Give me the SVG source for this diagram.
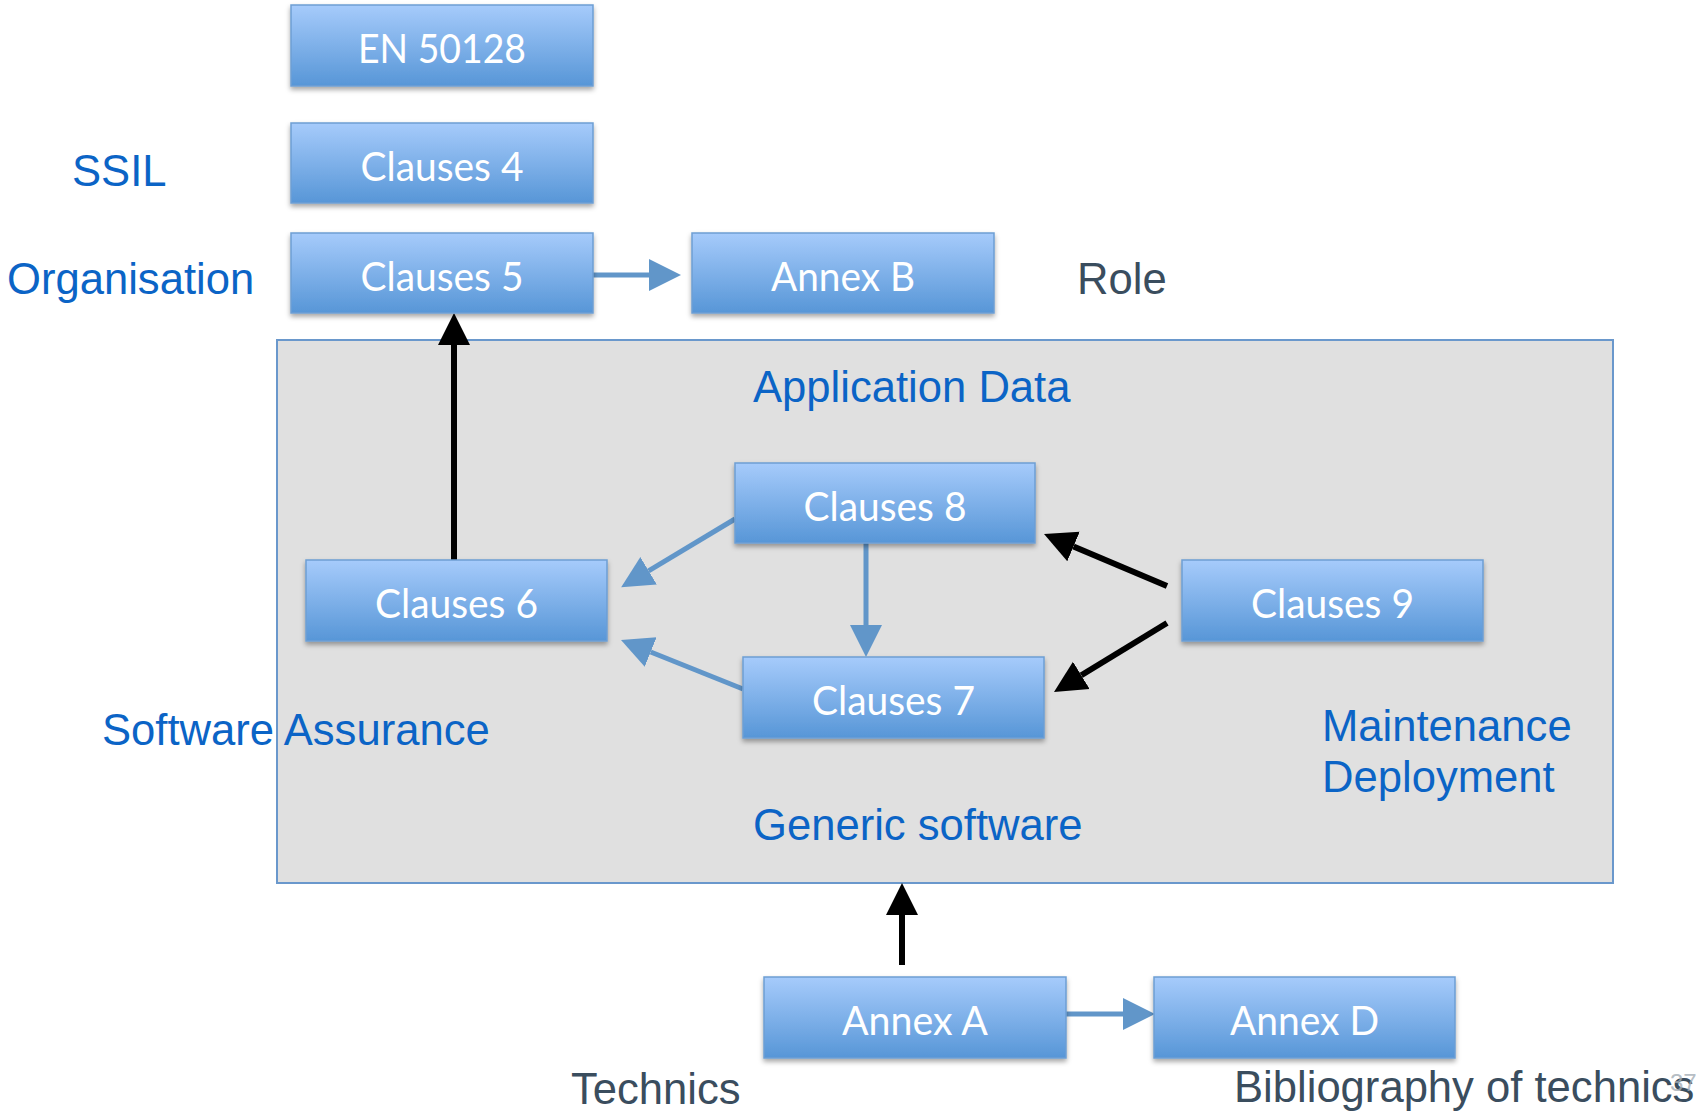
<svg xmlns="http://www.w3.org/2000/svg" width="1702" height="1111" viewBox="0 0 1702 1111">
  <defs>
    <linearGradient id="boxFill" x1="0" y1="0" x2="0" y2="1">
      <stop offset="0" stop-color="#a6cbfb"/>
      <stop offset="1" stop-color="#5796d7"/>
    </linearGradient>
    <filter id="boxShadow" x="-5%" y="-10%" width="110%" height="130%">
      <feDropShadow dx="0" dy="3" stdDeviation="2.5" flood-color="#000" flood-opacity="0.35"/>
    </filter>
    <marker id="headBlue" markerUnits="userSpaceOnUse" markerWidth="34" markerHeight="34" viewBox="0 -17 34 34" refX="0" refY="0" orient="auto">
      <path d="M0,-16 L32,0 L0,16 z" fill="#6196c9"/>
    </marker>
    <marker id="headBlack" markerUnits="userSpaceOnUse" markerWidth="34" markerHeight="34" viewBox="0 -17 34 34" refX="0" refY="0" orient="auto">
      <path d="M0,-16 L32,0 L0,16 z" fill="#000"/>
    </marker>
  </defs>
  <style>
    .box rect { fill: url(#boxFill); stroke: #6d9ed4; stroke-width: 1.5; filter: url(#boxShadow); }
    .box text { font-family: Lato, "Open Sans", "Liberation Sans", sans-serif; font-size: 40px; fill: #ffffff; text-anchor: middle; }
    .lbl { font-family: "Liberation Sans", Arial, sans-serif; font-size: 43.6px; fill: #0b64c6; }
    .dark { fill: #3a4d5e; }
    .blue { stroke: #6196c9; stroke-width: 5; fill: none; marker-end: url(#headBlue); }
    .black { stroke: #000; stroke-width: 6; fill: none; marker-end: url(#headBlack); }
  </style>

  <rect width="1702" height="1111" fill="#ffffff"/>

  <!-- software area -->
  <g id="software-area">
    <rect x="277" y="340" width="1336" height="543" fill="#e0e0e0" stroke="#6a98cc" stroke-width="2"/>
  </g>

  <!-- labels -->
  <g id="labels">
    <text class="lbl" x="72" y="186">SSIL</text>
    <text class="lbl" x="7" y="294">Organisation</text>
    <text class="lbl dark" x="1077" y="294">Role</text>
    <text class="lbl" x="753" y="402" font-size="42.6">Application Data</text>
    <text class="lbl" x="102" y="745">Software Assurance</text>
    <text class="lbl" x="1322" y="741">Maintenance</text>
    <text class="lbl" x="1322" y="792">Deployment</text>
    <text class="lbl" x="753" y="840">Generic software</text>
    <text class="lbl dark" x="571" y="1104">Technics</text>
    <text class="lbl dark" x="1234" y="1102">Bibliography of technics</text>
    <text x="1670" y="1091" font-family="Liberation Sans, Arial, sans-serif" font-size="24" fill="#a3acb5" fill-opacity="0.8">37</text>
  </g>

  <!-- connectors -->
  <g id="connectors">
    <line class="blue" x1="592" y1="275" x2="649" y2="275"/>
    <line class="black" x1="454" y1="560" x2="454" y2="345"/>
    <line class="blue" x1="735" y1="519" x2="648.6" y2="570.8"/>
    <line class="blue" x1="743" y1="689" x2="650.7" y2="652"/>
    <line class="blue" x1="866" y1="543" x2="866" y2="625"/>
    <line class="black" x1="1167" y1="586" x2="1073.5" y2="546.5"/>
    <line class="black" x1="1167" y1="623" x2="1081.3" y2="675.3"/>
    <line class="black" x1="902" y1="965" x2="902" y2="915"/>
    <line class="blue" x1="1066" y1="1014" x2="1123" y2="1014"/>
  </g>

  <!-- nodes -->
  <g id="en50128" class="box">
    <rect x="291" y="5" width="302" height="81"/>
    <text x="442" y="63" textLength="168" lengthAdjust="spacingAndGlyphs">EN 50128</text>
  </g>
  <g id="clauses4" class="box">
    <rect x="291" y="123" width="302" height="80"/>
    <text x="442" y="181" textLength="163" lengthAdjust="spacingAndGlyphs">Clauses 4</text>
  </g>
  <g id="clauses5" class="box">
    <rect x="291" y="233" width="302" height="80"/>
    <text x="442" y="291" textLength="163" lengthAdjust="spacingAndGlyphs">Clauses 5</text>
  </g>
  <g id="annexB" class="box">
    <rect x="692" y="233" width="302" height="80"/>
    <text x="843" y="291" textLength="144" lengthAdjust="spacingAndGlyphs">Annex B</text>
  </g>
  <g id="clauses6" class="box">
    <rect x="306" y="560" width="301" height="81"/>
    <text x="456.5" y="618" textLength="163" lengthAdjust="spacingAndGlyphs">Clauses 6</text>
  </g>
  <g id="clauses8" class="box">
    <rect x="735" y="463" width="300" height="80"/>
    <text x="885" y="521" textLength="163" lengthAdjust="spacingAndGlyphs">Clauses 8</text>
  </g>
  <g id="clauses7" class="box">
    <rect x="743" y="657" width="301" height="81"/>
    <text x="893.5" y="715" textLength="163" lengthAdjust="spacingAndGlyphs">Clauses 7</text>
  </g>
  <g id="clauses9" class="box">
    <rect x="1182" y="560" width="301" height="81"/>
    <text x="1332.5" y="618" textLength="163" lengthAdjust="spacingAndGlyphs">Clauses 9</text>
  </g>
  <g id="annexA" class="box">
    <rect x="764" y="977" width="302" height="81"/>
    <text x="915" y="1035" textLength="146" lengthAdjust="spacingAndGlyphs">Annex A</text>
  </g>
  <g id="annexD" class="box">
    <rect x="1154" y="977" width="301" height="81"/>
    <text x="1304.5" y="1035" textLength="149" lengthAdjust="spacingAndGlyphs">Annex D</text>
  </g>
</svg>
